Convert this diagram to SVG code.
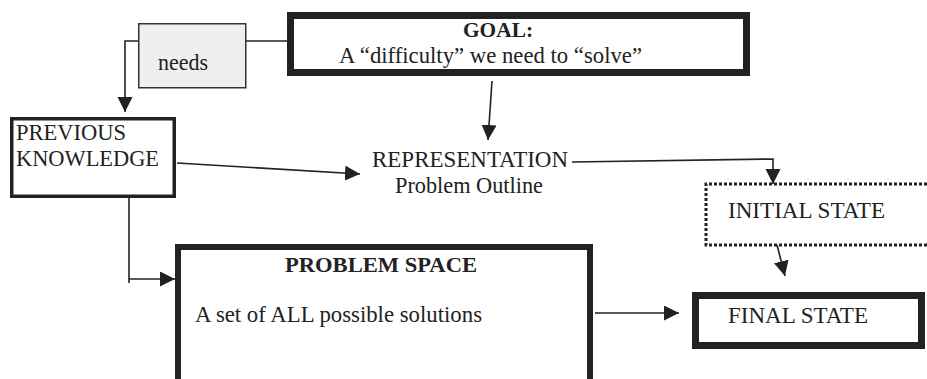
<svg xmlns="http://www.w3.org/2000/svg" width="927" height="379" viewBox="0 0 927 379">
  <defs>
    <style>
      .t { font-family: "Liberation Serif", "Times New Roman", serif; font-size: 23px; fill: #222; }
      .b { font-weight: bold; font-size: 22px; }
      .box { fill: #fff; stroke: #222; }
      .conn { fill: none; stroke: #222; stroke-width: 1.6; }
    </style>
    <marker id="arrow" markerUnits="userSpaceOnUse" markerWidth="16" markerHeight="16" refX="15" refY="7.5" orient="auto">
      <path d="M0,0 L15,7.5 L0,15 Z" fill="#222"/>
    </marker>
  </defs>
  <rect width="927" height="379" fill="#fff"/>

  <!-- connectors -->
  <g id="connectors">
    <path class="conn" d="M287,41 H246"/>
    <path class="conn" d="M138,41 H125 V112" marker-end="url(#arrow)"/>
    <path class="conn" d="M492,81 L488,140" marker-end="url(#arrow)"/>
    <path class="conn" d="M177,163 L360,174" marker-end="url(#arrow)"/>
    <path class="conn" d="M572,162 L773,159 V184" marker-end="url(#arrow)"/>
    <path class="conn" d="M777,245 L785,276" marker-end="url(#arrow)"/>
    <path class="conn" d="M129,193 V283"/>
    <path class="conn" d="M129,279 H175" marker-end="url(#arrow)"/>
    <path class="conn" d="M595,313 H679" marker-end="url(#arrow)"/>
  </g>

  <!-- needs label box -->
  <g id="needs">
    <rect x="138.75" y="23.75" width="107" height="64" fill="#efefef" stroke="#333" stroke-width="1.5"/>
    <text class="t" x="158" y="70" textLength="50" lengthAdjust="spacingAndGlyphs">needs</text>
  </g>

  <!-- goal -->
  <g id="goal">
    <rect class="box" x="290.5" y="15.5" width="456" height="57" stroke-width="7"/>
    <text class="t b" x="463" y="37" textLength="70" lengthAdjust="spacingAndGlyphs">GOAL:</text>
    <text class="t" x="339" y="63" textLength="303" lengthAdjust="spacingAndGlyphs">A “difficulty” we need to “solve”</text>
  </g>

  <!-- previous knowledge -->
  <g id="previous-knowledge">
    <rect class="box" x="11.75" y="118.75" width="162.5" height="77.5" stroke-width="3.5"/>
    <text class="t" x="16" y="140" textLength="110" lengthAdjust="spacingAndGlyphs">PREVIOUS</text>
    <text class="t" x="16" y="166" textLength="143" lengthAdjust="spacingAndGlyphs">KNOWLEDGE</text>
  </g>

  <!-- representation -->
  <g id="representation">
    <text class="t" x="372" y="167" textLength="196" lengthAdjust="spacingAndGlyphs">REPRESENTATION</text>
    <text class="t" x="395" y="193" textLength="148" lengthAdjust="spacingAndGlyphs">Problem Outline</text>
  </g>

  <!-- initial state (dotted, runs off the right edge) -->
  <g id="initial-state">
    <path d="M927,184 H706 V245 H927" fill="none" stroke="#222" stroke-width="3" stroke-dasharray="3 2"/>
    <text class="t" x="728" y="218" textLength="157" lengthAdjust="spacingAndGlyphs">INITIAL STATE</text>
  </g>

  <!-- problem space (runs off the bottom edge) -->
  <g id="problem-space">
    <rect class="box" x="178" y="247" width="412" height="200" stroke-width="6"/>
    <text class="t b" x="285" y="272" textLength="192" lengthAdjust="spacingAndGlyphs">PROBLEM SPACE</text>
    <text class="t" x="195" y="322" textLength="287" lengthAdjust="spacingAndGlyphs">A set of ALL possible solutions</text>
  </g>

  <!-- final state -->
  <g id="final-state">
    <rect class="box" x="695.5" y="295.5" width="226" height="50" stroke-width="7"/>
    <text class="t" x="728" y="323" textLength="140" lengthAdjust="spacingAndGlyphs">FINAL STATE</text>
  </g>
</svg>
